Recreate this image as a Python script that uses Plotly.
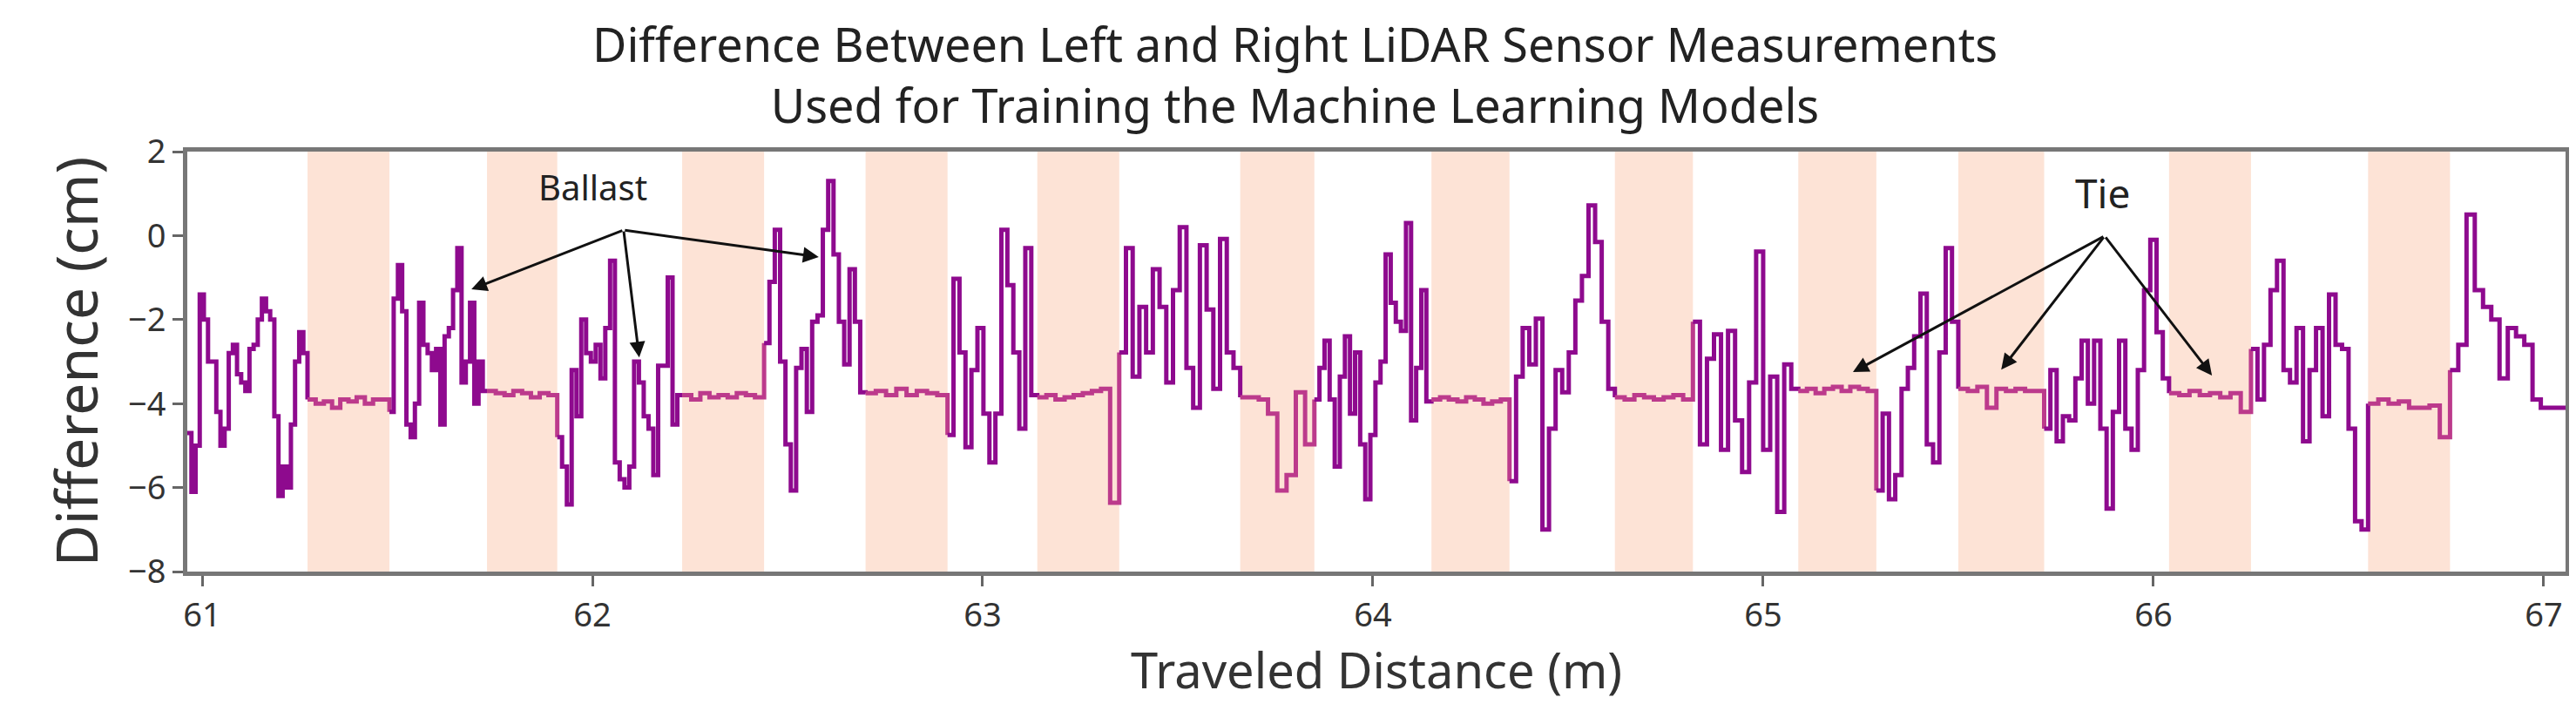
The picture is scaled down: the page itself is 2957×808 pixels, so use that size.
import plotly.graph_objects as go

# tie (shaded) bands, metres
tie_starts = [61.27, 61.73, 62.23, 62.70, 63.14, 63.66, 64.15, 64.62, 65.09, 65.50, 66.04, 66.55]
tie_ends   = [61.48, 61.91, 62.44, 62.91, 63.35, 63.85, 64.35, 64.82, 65.29, 65.72, 66.25, 66.76]

# signal segments: (start, end, values)
seg_x = [60.962, 61.27, 61.48, 61.73, 61.91, 62.23, 62.44, 62.70, 62.91, 63.14, 63.35, 63.66, 63.85,
         64.15, 64.35, 64.62, 64.82, 65.09, 65.29, 65.50, 65.72, 66.04, 66.25, 66.55, 66.76, 67.056]
seg_vals = [
    [-4.7, -6.1, -5.0, -1.4, -2.0, -3.0, -3.0, -4.2, -5.0, -4.6, -2.8, -2.6, -3.3, -3.5, -3.7, -2.7, -2.6, -2.0, -1.5, -1.8, -2.0, -4.3, -6.2, -5.5, -6.0, -4.5, -3.0, -2.3, -2.8],
    [-3.9, -4.0, -3.95, -4.1, -3.9, -3.95, -3.85, -4.0, -3.9, -3.9],
    [-4.2, -1.5, -0.7, -1.8, -4.5, -4.8, -4.0, -1.6, -2.6, -2.8, -3.2, -2.7, -4.5, -2.4, -2.2, -1.3, -0.3, -3.5, -3.0, -1.6, -4.0, -3.0, -3.7],
    [-3.7, -3.75, -3.8, -3.7, -3.75, -3.85, -3.75, -3.8],
    [-4.8, -5.5, -6.4, -3.2, -4.3, -2.0, -2.8, -3.0, -2.6, -3.4, -2.2, -0.6, -5.4, -5.8, -6.0, -5.5, -3.0, -3.5, -4.3, -4.6, -5.7, -3.1, -3.1, -1.0, -4.5, -3.8],
    [-3.8, -3.9, -3.75, -3.85, -3.8, -3.85, -3.75, -3.8, -3.85],
    [-2.56, -1.1, 0.14, -3.0, -4.97, -6.07, -3.15, -2.7, -4.2, -2.05, -1.9, 0.14, 1.3, -0.45, -2.05, -3.07, -0.8, -2.05, -3.73],
    [-3.75, -3.7, -3.8, -3.65, -3.8, -3.7, -3.75, -3.8],
    [-4.75, -1.03, -2.78, -5.04, -3.2, -2.2, -4.24, -5.4, -4.24, 0.14, -1.18, -2.78, -4.6, -0.3, -3.8],
    [-3.85, -3.8, -3.9, -3.85, -3.8, -3.75, -3.7, -3.65, -6.36],
    [-2.78, -0.3, -3.36, -1.7, -2.78, -0.8, -1.7, -3.5, -1.3, 0.2, -3.15, -4.1, -0.23, -1.76, -3.65, -0.08, -2.78, -3.15],
    [-3.85, -3.85, -3.9, -4.24, -6.07, -5.7, -3.73, -4.97],
    [-3.9, -3.15, -2.5, -3.9, -5.5, -3.36, -2.4, -4.24, -2.78, -4.97, -6.28, -4.75, -3.5, -3.0, -0.45, -1.6, -2.05, -2.27, 0.3, -4.4, -3.15, -1.3, -3.95],
    [-3.9, -3.85, -3.9, -3.95, -3.85, -3.9, -4.0, -3.95, -3.9],
    [-5.85, -3.36, -2.2, -3.07, -1.98, -7.0, -4.6, -3.2, -3.73, -2.78, -1.55, -0.96, 0.72, -0.15, -2.05, -3.65],
    [-3.85, -3.9, -3.8, -3.85, -3.9, -3.85, -3.8, -3.9],
    [-2.05, -4.97, -2.93, -2.35, -5.1, -2.27, -4.4, -5.63, -3.5, -0.38, -5.1, -3.36, -6.58, -3.07, -3.65],
    [-3.7, -3.65, -3.75, -3.65, -3.6, -3.7, -3.6, -3.65, -3.7],
    [-6.07, -4.24, -6.28, -5.7, -3.65, -3.15, -2.4, -1.38, -4.97, -5.4, -2.78, -0.3, -2.05],
    [-3.65, -3.7, -3.6, -4.1, -3.65, -3.7, -3.65, -3.7, -3.7],
    [-4.6, -3.2, -4.9, -4.3, -4.4, -3.4, -2.5, -4.0, -2.5, -4.6, -6.5, -4.2, -2.5, -4.6, -5.1, -3.2, -1.3, -0.1, -2.3, -3.4],
    [-3.75, -3.8, -3.7, -3.8, -3.75, -3.85, -3.75, -4.2],
    [-2.7, -3.9, -2.6, -1.3, -0.6, -3.2, -3.5, -2.2, -4.9, -3.2, -2.2, -4.3, -1.4, -2.6, -2.7, -4.6, -6.8, -7.0],
    [-4.0, -3.9, -4.0, -3.95, -4.1, -4.1, -4.05, -4.8],
    [-3.2, -2.6, 0.5, -1.3, -1.7, -2.0, -3.4, -2.2, -2.4, -2.6, -3.9, -4.1, -4.1, -4.1],
]

fig = go.Figure()

for s, e in zip(tie_starts, tie_ends):
    fig.add_vrect(x0=s, x1=e, fillcolor="#FDE3D6", opacity=1, line_width=0, layer="below")

for i, vals in enumerate(seg_vals):
    s, e = seg_x[i], seg_x[i + 1]
    n = len(vals)
    xs = [s + (e - s) * k / n for k in range(n)] + [e]
    nxt = seg_vals[i + 1][0] if i + 1 < len(seg_vals) else vals[-1]
    ys = vals + [nxt]
    tie = (i % 2 == 1)
    fig.add_trace(go.Scatter(x=xs, y=ys, mode="lines", line_shape="hv",
                             line=dict(color="#BC3A8C" if tie else "#8E0A8E", width=5),
                             showlegend=False, hoverinfo="skip"))

ann = []
ann.append(dict(x=62.0, y=1.15, text="Ballast", showarrow=False, font=dict(size=40, color="#222"),
                xref="x", yref="y"))
for tx, ty in [(61.69, -1.28), (62.12, -2.9), (62.58, -0.51)]:
    ann.append(dict(x=tx, y=ty, ax=62.08, ay=0.13, axref="x", ayref="y", xref="x", yref="y",
                    text="", showarrow=True, arrowhead=2, arrowsize=1.2, arrowwidth=3, arrowcolor="#111"))
ann.append(dict(x=65.87, y=1.02, text="Tie", showarrow=False, font=dict(size=46, color="#222"),
                xref="x", yref="y"))
for tx, ty in [(65.23, -3.25), (65.61, -3.19), (66.15, -3.33)]:
    ann.append(dict(x=tx, y=ty, ax=65.875, ay=-0.01, axref="x", ayref="y", xref="x", yref="y",
                    text="", showarrow=True, arrowhead=2, arrowsize=1.2, arrowwidth=3, arrowcolor="#111"))
ann.append(dict(x=0.4656, y=1.185, xref="paper", yref="paper", showarrow=False, yanchor="middle",
                text="Difference Between Left and Right LiDAR Sensor Measurements<br>Used for Training the Machine Learning Models",
                font=dict(size=54, color="#222")))

fig.update_layout(
    width=2957, height=808, paper_bgcolor="white", plot_bgcolor="white",
    margin=dict(l=207, r=20, t=166, b=160),
    font=dict(family="Noto Sans, DejaVu Sans, sans-serif", color="#333"),
    annotations=ann,
)
fig.update_xaxes(range=[60.962, 67.056], tickvals=[61, 62, 63, 64, 65, 66, 67],
                 ticks="outside", ticklen=12, tickwidth=3, tickcolor="#666",
                 showline=True, linecolor="#777", linewidth=5, mirror=True, showgrid=False, zeroline=False,
                 tickfont=dict(size=38, color="#333"),
                 title=dict(text="Traveled Distance (m)", font=dict(size=56, color="#333"), standoff=14))
fig.update_yaxes(range=[-8, 2], tickvals=[-8, -6, -4, -2, 0, 2],
                 ticks="outside", ticklen=12, tickwidth=3, tickcolor="#666",
                 showline=True, linecolor="#777", linewidth=5, mirror=True, showgrid=False, zeroline=False,
                 tickfont=dict(size=38, color="#333"),
                 title=dict(text="Difference (cm)", font=dict(size=66, color="#333"), standoff=14))

fig.write_html("out.html")
